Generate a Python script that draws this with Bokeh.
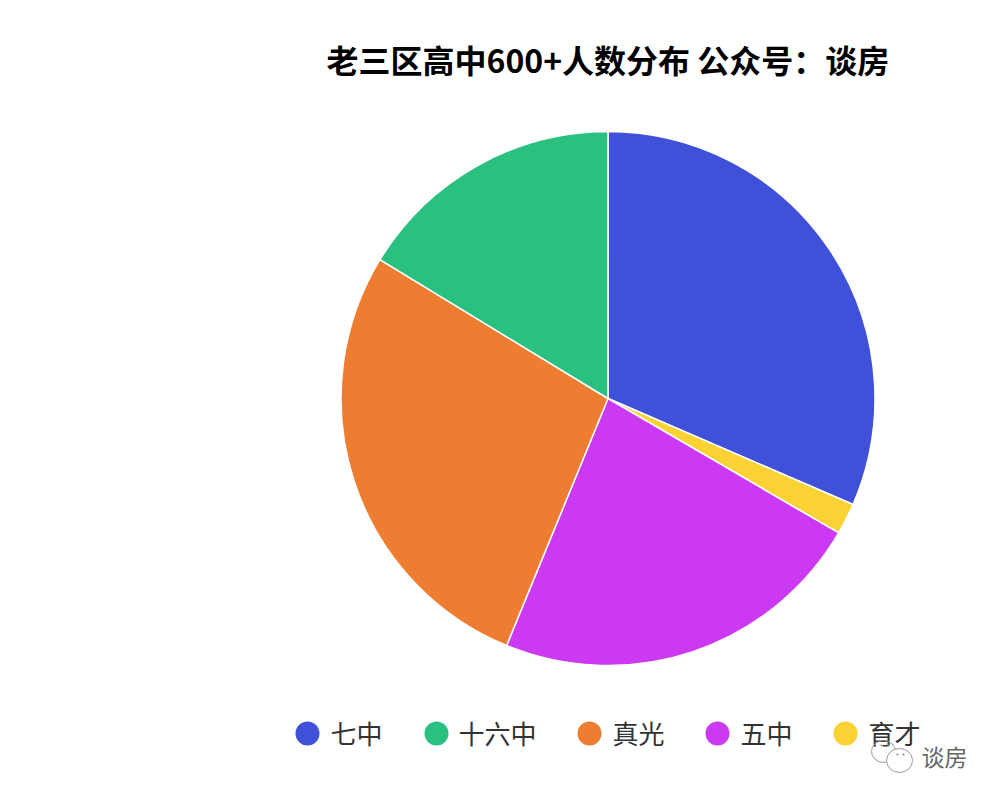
from math import pi
from bokeh.plotting import figure
from bokeh.models import ColumnDataSource
from bokeh.core.properties import value
from bokeh.embed import file_html
from bokeh.resources import INLINE

title = "老三区高中600+人数分布 公众号：谈房"
slice_names = ["七中", "育才", "五中", "真光", "十六中"]
slice_values = [31.5, 1.9, 22.8, 27.5, 16.3]
slice_colors = ["#4051d9", "#fbd233", "#cb3af2", "#ee7c31", "#2ac07f"]
legend_names = ["七中", "十六中", "真光", "五中", "育才"]
legend_colors = ["#4051d9", "#2ac07f", "#ee7c31", "#cb3af2", "#fbd233"]
legend_dot_x = [307, 436, 589, 717, 845]
legend_text_x = [330, 458, 612, 740, 868]
FONT = value("Noto Sans CJK SC")

W, H = 984, 784
p = figure(width=W, height=H, x_range=(0, 984), y_range=(784, 0),
           output_backend="svg", toolbar_location=None, min_border=0)
p.axis.visible = False
p.grid.visible = False
p.outline_line_color = None
p.background_fill_color = "#ffffff"
p.border_fill_color = "#ffffff"

total = sum(slice_values)
starts, ends, acc = [], [], 0.0
for v in slice_values:
    starts.append(pi / 2 - acc / total * 2 * pi)
    acc += v
    ends.append(pi / 2 - acc / total * 2 * pi)

src = ColumnDataSource(dict(name=slice_names, value=slice_values, start=starts, end=ends, color=slice_colors))
p.wedge(x=607.5, y=398, radius=267, start_angle="start", end_angle="end", direction="clock",
        fill_color="color", line_color="#ffffff", line_width=1.5, source=src)

p.text(x=[326], y=[58], text=[title], text_font=FONT, text_font_style="bold",
       text_font_size="32px", text_color="#000000", text_baseline="middle", text_align="left")

p.scatter(x=legend_dot_x, y=[733] * 5, size=24, marker="circle", fill_color=legend_colors, line_color=None)
p.text(x=legend_text_x, y=[732] * 5, text=legend_names, text_font=FONT, text_font_size="26px",
       text_color="#333333", text_baseline="middle", text_align="left")

# watermark
p.ellipse(x=[883], y=[751], width=[24], height=[22], fill_color=None, line_color="#999999", line_width=1)
p.ellipse(x=[899], y=[760], width=[26], height=[24], fill_color="#ffffff", line_color="#999999", line_width=1)
p.scatter(x=[881, 888, 897, 903], y=[745, 745, 754, 754], size=2, marker="circle",
          fill_color="#888888", line_color=None)
p.text(x=[921], y=[755], text=["谈房"], text_font=FONT, text_font_size="23px", text_color="#666666",
       text_baseline="middle", text_align="left")

open("out.html", "w").write(file_html(p, INLINE))
